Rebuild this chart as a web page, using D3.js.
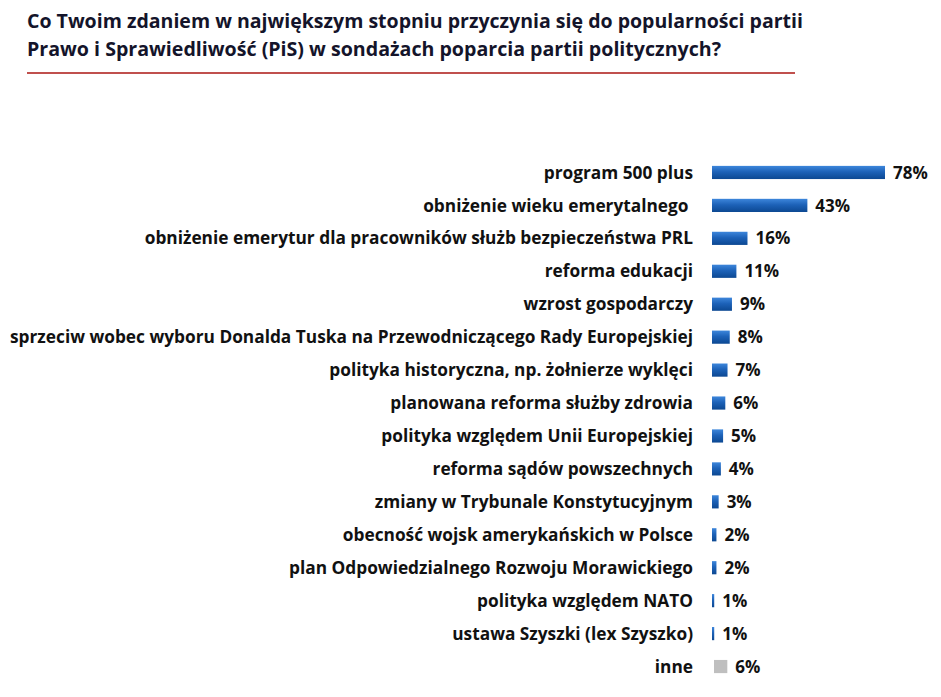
<!DOCTYPE html>
<html>
<head>
<meta charset="utf-8">
<script src="https://cdn.jsdelivr.net/npm/d3@7"></script>
<style>
  html, body { margin: 0; padding: 0; background: #fff; }
  svg { display: block; }
</style>
</head>
<body>
<svg id="chart" width="941" height="697"></svg>
<script>
const titleLines = [
  "Co Twoim zdaniem w największym stopniu przyczynia się do popularności partii",
  "Prawo i Sprawiedliwość (PiS) w sondażach poparcia partii politycznych?"
];
const categories = [
  "program 500 plus",
  "obniżenie wieku emerytalnego\u00a0",
  "obniżenie emerytur dla pracowników służb bezpieczeństwa PRL",
  "reforma edukacji",
  "wzrost gospodarczy",
  "sprzeciw wobec wyboru Donalda Tuska na Przewodniczącego Rady Europejskiej",
  "polityka historyczna, np. żołnierze wyklęci",
  "planowana reforma służby zdrowia",
  "polityka względem Unii Europejskiej",
  "reforma sądów powszechnych",
  "zmiany w Trybunale Konstytucyjnym",
  "obecność wojsk amerykańskich w Polsce",
  "plan Odpowiedzialnego Rozwoju Morawickiego",
  "polityka względem NATO",
  "ustawa Szyszki (lex Szyszko)",
  "inne"
];
const values = [78, 43, 16, 11, 9, 8, 7, 6, 5, 4, 3, 2, 2, 1, 1, 6];
const otherCategory = "inne";

const svg = d3.select("#chart");
const FONT = "'Open Sans', 'Liberation Sans', sans-serif";

// gradient for bars
const defs = svg.append("defs");
const grad = defs.append("linearGradient").attr("id", "barGrad")
  .attr("x1", 0).attr("y1", 0).attr("x2", 0).attr("y2", 1);
grad.append("stop").attr("offset", "0%").attr("stop-color", "#3d86db");
grad.append("stop").attr("offset", "45%").attr("stop-color", "#1d62b8");
grad.append("stop").attr("offset", "100%").attr("stop-color", "#0c4892");

// Title
const title = svg.append("g");
titleLines.forEach((t, i) => {
  title.append("text")
    .attr("x", 27).attr("y", 28 + i * 28)
    .attr("font-family", FONT).attr("font-weight", "bold")
    .attr("font-size", 19).attr("fill", "#14142a")
    .text(t);
});
const titleTargets = [776, 694];
title.selectAll("text").each(function(d, i) {
  d3.select(this).attr("textLength", titleTargets[i]).attr("lengthAdjust", "spacingAndGlyphs");
});

svg.append("line")
  .attr("x1", 27).attr("x2", 795).attr("y1", 73).attr("y2", 73)
  .attr("stroke", "#c0504d").attr("stroke-width", 2);

// Scales
const x = d3.scaleLinear().domain([0, 78]).range([712, 885]);
const y = d3.scaleBand().domain(categories).range([156, 683]).paddingInner(0.6).paddingOuter(0.3);

const g = svg.append("g");

const labels = g.selectAll("text.cat").data(categories).join("text")
  .attr("class", "cat")
  .attr("x", 693)
  .attr("y", d => y(d) + y.bandwidth() / 2)
  .attr("dy", "0.36em")
  .attr("text-anchor", "end")
  .attr("font-family", FONT).attr("font-weight", "bold")
  .attr("font-size", 17).attr("fill", "#111")
  .text(d => d);

// scale labels so the longest spans ~683px (Calibri metrics)
let maxW = 0;
labels.each(function() { maxW = Math.max(maxW, this.getComputedTextLength()); });
const k = 683 / maxW;
labels.each(function() {
  const w = this.getComputedTextLength();
  d3.select(this).attr("textLength", w * k).attr("lengthAdjust", "spacingAndGlyphs");
});

const data = categories.map((c, i) => ({ c, v: values[i] }));

g.selectAll("rect.bar").data(data).join("rect")
  .attr("class", "bar")
  .attr("x", d => d.c === otherCategory ? x(0) + 2 : x(0))
  .attr("y", d => y(d.c))
  .attr("width", d => x(d.v) - x(0))
  .attr("height", y.bandwidth())
  .attr("fill", d => d.c === otherCategory ? "#bfbfbf" : "url(#barGrad)");

const vals = g.selectAll("text.val").data(data).join("text")
  .attr("class", "val")
  .attr("x", d => x(d.v) + (d.c === otherCategory ? 2 : 0) + 8)
  .attr("y", d => y(d.c) + y.bandwidth() / 2)
  .attr("dy", "0.36em")
  .attr("font-family", FONT).attr("font-weight", "bold")
  .attr("font-size", 17).attr("fill", "#111")
  .text(d => d.v + "%");
vals.each(function() {
  const w = this.getComputedTextLength();
  d3.select(this).attr("textLength", w * Math.min(1, k * 1.05)).attr("lengthAdjust", "spacingAndGlyphs");
});
</script>
</body>
</html>
